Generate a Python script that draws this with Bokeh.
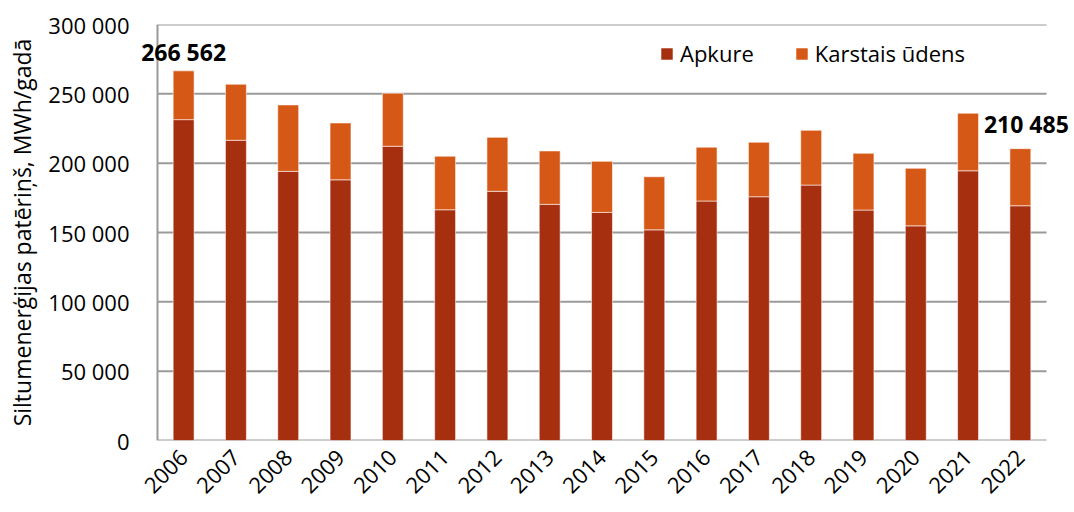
from bokeh.plotting import figure
from bokeh.models import ColumnDataSource, FixedTicker, Label, Legend, FactorRange
from bokeh.embed import file_html
from bokeh.resources import INLINE
import math

years = ["2006", "2007", "2008", "2009", "2010", "2011", "2012", "2013", "2014",
         "2015", "2016", "2017", "2018", "2019", "2020", "2021", "2022"]
apkure = [231400, 216500, 194100, 188000, 212200, 166400, 179700, 170300, 164500,
          151900, 172700, 175800, 184200, 166200, 154800, 194500, 169300]
karstais_udens = [35162, 40400, 47900, 41000, 38200, 38600, 38900, 38500, 36800,
                  38300, 38800, 39300, 39500, 40900, 41500, 41500, 41185]
series_names = ["Apkure", "Karstais ūdens"]
y_ticks = [0, 50000, 100000, 150000, 200000, 250000, 300000]
y_tick_labels = ["0", "50 000", "100 000", "150 000", "200 000", "250 000", "300 000"]
label_years = ["2006", "2022"]
y_title = "Siltumenerģijas patēriņš, MWh/gadā"

colors = ["#A62F10", "#D65816"]
GRID = "#9A9A9A"
FONT = "Open Sans"

totals = [a + k for a, k in zip(apkure, karstais_udens)]
source = ColumnDataSource(dict(year=years, Apkure=apkure, Karstais=karstais_udens, total=totals))

# frame is widened by padding so that the bold value labels are not clipped;
# the visible axis lines / grid are drawn across the categories only
x_range = FactorRange(factors=years, range_padding=0.535, range_padding_units="absolute")
p = figure(x_range=x_range, y_range=(0, 300000), width=1074, height=512,
           output_backend="svg", toolbar_location=None,
           min_border_left=129, min_border_right=0, min_border_top=24, min_border_bottom=72)

ncat = len(years)
p.segment(x0=[0] * len(y_ticks), x1=[ncat] * len(y_ticks), y0=y_ticks, y1=y_ticks,
          line_color=GRID, line_width=2, level="underlay")
p.segment(x0=[0], x1=[0], y0=[y_ticks[0]], y1=[y_ticks[-1]],
          line_color=GRID, line_width=2, level="underlay")

r = p.vbar_stack(["Apkure", "Karstais"], x="year", width=0.4, color=colors,
                 line_color="white", line_alpha=0.55, line_width=1, source=source)

legend = Legend(items=[(series_names[0], [r[0]]), (series_names[1], [r[1]])],
                orientation="horizontal", location=(530, 372))
legend.padding = 0
legend.margin = 0
legend.spacing = 40
legend.glyph_width = 15
legend.glyph_height = 15
legend.label_standoff = 6
legend.label_text_font = FONT
legend.label_text_font_size = "22px"
legend.label_text_color = "#000000"
legend.border_line_color = None
legend.background_fill_alpha = 0
p.add_layout(legend)

p.outline_line_color = None
p.xgrid.grid_line_color = None
p.ygrid.grid_line_color = None
p.yaxis.ticker = FixedTicker(ticks=y_ticks)
p.yaxis.major_label_overrides = {t: l for t, l in zip(y_ticks, y_tick_labels)}

for ax in (p.xaxis, p.yaxis):
    ax.axis_line_color = None
    ax.major_tick_line_color = None
    ax.minor_tick_line_color = None
    ax.major_tick_out = 0
    ax.major_tick_in = 0
    ax.major_label_text_font = FONT
    ax.major_label_text_font_size = "22px"
    ax.major_label_text_color = "#000000"

p.yaxis.major_label_standoff = 0
p.yaxis.axis_label = y_title
p.yaxis.axis_label_text_font = FONT
p.yaxis.axis_label_text_font_size = "23px"
p.yaxis.axis_label_text_font_style = "normal"
p.yaxis.axis_label_text_color = "#000000"
p.yaxis.axis_label_standoff = 7

p.xaxis.major_label_orientation = math.pi / 4
p.xaxis.major_label_standoff = 13

offsets = {"2006": (0, 19), "2022": (6, 25)}
for yr in label_years:
    i = years.index(yr)
    lab = Label(x=i + 0.5, y=totals[i], text=f"{totals[i]:,}".replace(",", " "),
                x_offset=offsets[yr][0], y_offset=offsets[yr][1],
                text_align="center", text_baseline="alphabetic",
                text_font=FONT, text_font_size="23px", text_font_style="bold",
                text_color="#000000")
    p.add_layout(lab)

open("out.html", "w").write(file_html(p, INLINE))
